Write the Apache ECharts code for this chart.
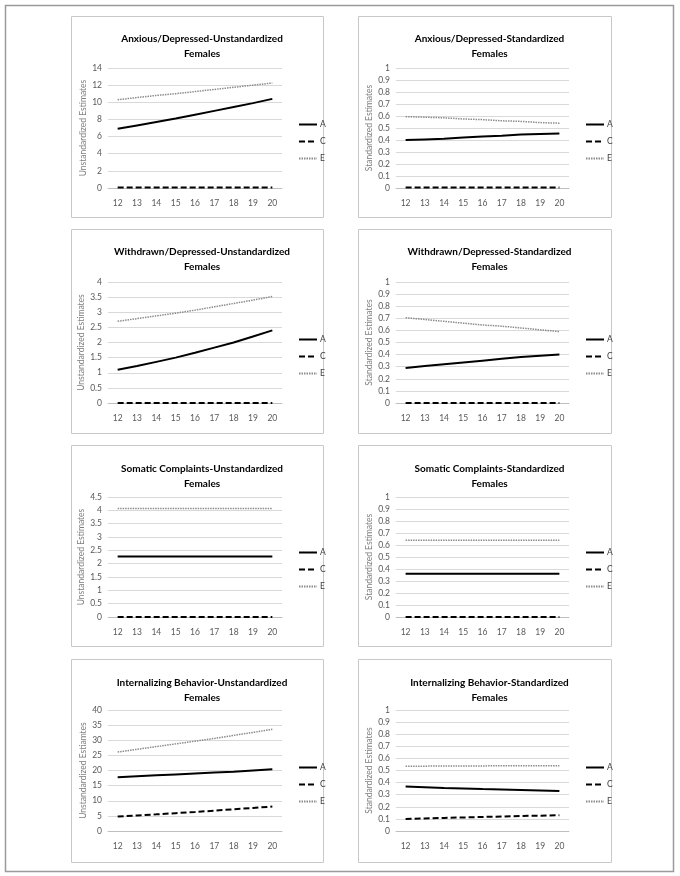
<!DOCTYPE html>
<html>
<head>
<meta charset="utf-8">
<style>
  html, body { margin: 0; padding: 0; background: #fff; }
  #chart { width: 680px; height: 876px; }
</style>
</head>
<body>
<div id="chart"></div>
<script src="https://cdn.jsdelivr.net/npm/echarts@6/dist/echarts.min.js"></script>
<script>
const ages = ['12', '13', '14', '15', '16', '17', '18', '19', '20'];

const titles = [
  'Anxious/Depressed-Unstandardized\nFemales',
  'Anxious/Depressed-Standardized\nFemales',
  'Withdrawn/Depressed-Unstandardized\nFemales',
  'Withdrawn/Depressed-Standardized\nFemales',
  'Somatic Complaints-Unstandardized\nFemales',
  'Somatic Complaints-Standardized\nFemales',
  'Internalizing Behavior-Unstandardized\nFemales',
  'Internalizing Behavior-Standardized\nFemales'
];
const yTitles = [
  'Unstandardized Estimates', 'Standardized Estimates',
  'Unstandardized Estimates', 'Standardized Estimates',
  'Unstandardized Estimates', 'Standardized Estimates',
  'Unstandardized Estiamtes', 'Standardized Estimates'
];
const yMax = [14, 1, 4, 1, 4.5, 1, 40, 1];
const yStep = [2, 0.1, 0.5, 0.1, 0.5, 0.1, 5, 0.1];

// anxious/depressed
const anxUnstdA = [6.9, 7.3, 7.7, 8.1, 8.55, 9.0, 9.45, 9.9, 10.4];
const anxUnstdC = [0.05, 0.05, 0.05, 0.05, 0.05, 0.05, 0.05, 0.05, 0.05];
const anxUnstdE = [10.3, 10.55, 10.8, 11.0, 11.25, 11.5, 11.75, 12.0, 12.25];
const anxStdA = [0.40, 0.405, 0.41, 0.42, 0.43, 0.435, 0.445, 0.45, 0.455];
const anxStdC = [0.005, 0.005, 0.005, 0.005, 0.005, 0.005, 0.005, 0.005, 0.005];
const anxStdE = [0.595, 0.59, 0.585, 0.575, 0.57, 0.56, 0.555, 0.545, 0.54];
// withdrawn/depressed
const witUnstdA = [1.1, 1.22, 1.36, 1.5, 1.66, 1.83, 2.0, 2.2, 2.4];
const witUnstdC = [0, 0, 0, 0, 0, 0, 0, 0, 0];
const witUnstdE = [2.7, 2.79, 2.88, 2.97, 3.07, 3.18, 3.29, 3.4, 3.52];
const witStdA = [0.29, 0.305, 0.32, 0.335, 0.35, 0.365, 0.38, 0.39, 0.40];
const witStdC = [0, 0, 0, 0, 0, 0, 0, 0, 0];
const witStdE = [0.705, 0.69, 0.675, 0.66, 0.645, 0.635, 0.62, 0.605, 0.59];
// somatic complaints
const somUnstdA = [2.27, 2.27, 2.27, 2.27, 2.27, 2.27, 2.27, 2.27, 2.27];
const somUnstdC = [0, 0, 0, 0, 0, 0, 0, 0, 0];
const somUnstdE = [4.07, 4.07, 4.07, 4.07, 4.07, 4.07, 4.07, 4.07, 4.07];
const somStdA = [0.36, 0.36, 0.36, 0.36, 0.36, 0.36, 0.36, 0.36, 0.36];
const somStdC = [0, 0, 0, 0, 0, 0, 0, 0, 0];
const somStdE = [0.64, 0.64, 0.64, 0.64, 0.64, 0.64, 0.64, 0.64, 0.64];
// internalizing behavior
const intUnstdA = [17.8, 18.1, 18.4, 18.7, 19.0, 19.3, 19.6, 20.0, 20.4];
const intUnstdC = [4.8, 5.15, 5.5, 5.9, 6.3, 6.7, 7.2, 7.6, 8.1];
const intUnstdE = [26.1, 27.0, 27.9, 28.8, 29.7, 30.6, 31.6, 32.6, 33.6];
const intStdA = [0.368, 0.362, 0.356, 0.352, 0.347, 0.343, 0.339, 0.335, 0.331];
const intStdC = [0.10, 0.104, 0.108, 0.112, 0.116, 0.12, 0.124, 0.127, 0.13];
const intStdE = [0.535, 0.536, 0.537, 0.538, 0.538, 0.539, 0.539, 0.54, 0.54];

const panelData = [
  [anxUnstdA, anxUnstdC, anxUnstdE], [anxStdA, anxStdC, anxStdE],
  [witUnstdA, witUnstdC, witUnstdE], [witStdA, witStdC, witStdE],
  [somUnstdA, somUnstdC, somUnstdE], [somStdA, somStdC, somStdE],
  [intUnstdA, intUnstdC, intUnstdE], [intStdA, intStdC, intStdE]
];

const font = 'Lato, "Liberation Sans", sans-serif';
// layout per row / column
const rowTop = [16, 229, 445, 659];
const rowBottom = [217, 433, 646, 862];
const titleY = [26, 239, 456, 670];
const plotTop = [68, 282, 497, 710];
const plotH = [120, 121, 120, 121];
const legendTop = [115, 330, 543, 758];
const colLeft = [71, 358];
const colRight = [323, 611];
const plotLeft = [108, 396];
const plotW = [174, 173];
const legendLeft = [293, 580];

const lineStyles = [
  { color: '#000', width: 2, type: 'solid' },
  { color: '#000', width: 2, type: [6, 3] },
  { color: '#8c8c8c', width: 1.5, type: [1.5, 1] }
];
const names = ['A', 'C', 'E'];

const chart = echarts.init(document.getElementById('chart'));
const option = {
  animation: false,
  textStyle: { fontFamily: font },
  title: [], grid: [], xAxis: [], yAxis: [], legend: [], series: [],
  graphic: [{
    type: 'rect', shape: { x: 5.5, y: 5.5, width: 668, height: 866 },
    style: { fill: 'none', stroke: '#9a9a9a', lineWidth: 1.5 }
  }]
};

for (let i = 0; i < 8; i++) {
  const r = Math.floor(i / 2), c = i % 2;
  option.graphic.push({
    type: 'rect',
    shape: { x: colLeft[c] + 0.5, y: rowTop[r] + 0.5, width: colRight[c] - colLeft[c], height: rowBottom[r] - rowTop[r] },
    style: { fill: 'none', stroke: '#c8c8c8', lineWidth: 1 }
  });
  option.title.push({
    text: titles[i],
    left: (colLeft[c] + colRight[c]) / 2,
    top: titleY[r],
    textAlign: 'center',
    textStyle: { fontSize: 10, fontWeight: 'bold', color: '#000', lineHeight: 15, fontFamily: font }
  });
  option.grid.push({ left: plotLeft[c], top: plotTop[r], width: plotW[c], height: plotH[r] });
  option.xAxis.push({
    type: 'category', gridIndex: i, data: ages, boundaryGap: true,
    axisLine: { lineStyle: { color: '#bfbfbf' } },
    axisTick: { show: false },
    axisLabel: { color: '#595959', fontSize: 8.5, margin: 11, fontFamily: font }
  });
  option.yAxis.push({
    type: 'value', gridIndex: i, min: 0, max: yMax[i], interval: yStep[i],
    name: yTitles[i], nameLocation: 'middle', nameGap: 18,
    nameTextStyle: { color: '#7f7f7f', fontSize: 8.5, fontFamily: font },
    axisLine: { show: false }, axisTick: { show: false },
    axisLabel: { color: '#595959', fontSize: 8.5, margin: 6, fontFamily: font },
    splitLine: { lineStyle: { color: '#d9d9d9', width: 1 } }
  });
  option.legend.push({
    orient: 'vertical', left: legendLeft[c], top: legendTop[r],
    itemWidth: 18, itemHeight: 10, itemGap: 8,
    data: names,
    itemStyle: { opacity: 0, color: 'transparent', borderWidth: 0 },
    textStyle: { color: '#404040', fontSize: 8.5, padding: [0, 0, 0, -2], fontFamily: font }
  });
  for (let k = 0; k < 3; k++) {
    option.series.push({
      name: names[k], type: 'line', xAxisIndex: i, yAxisIndex: i,
      data: panelData[i][k], symbol: 'none', smooth: false,
      lineStyle: lineStyles[k], itemStyle: { color: lineStyles[k].color }
    });
  }
}

chart.setOption(option);
</script>
</body>
</html>
